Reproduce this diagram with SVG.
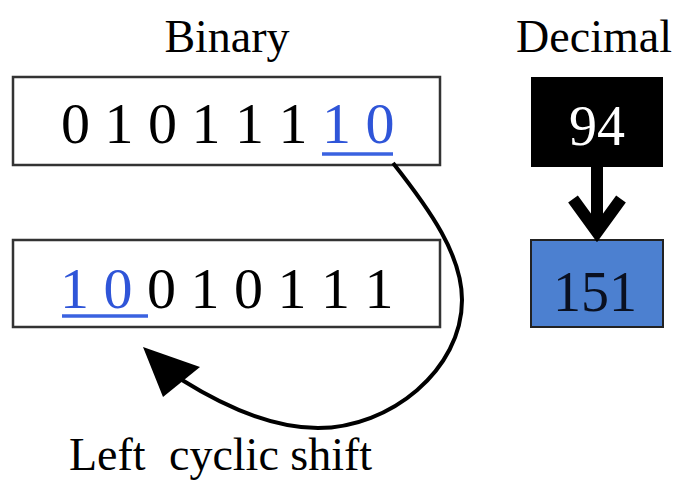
<svg xmlns="http://www.w3.org/2000/svg" width="677" height="482" viewBox="0 0 677 482">
  <style>
    .t { font-family: "Liberation Serif", "Times New Roman", serif; }
    .title { font-size: 46px; fill: #000; }
    .bits { font-size: 58px; fill: #000; }
    .hl { fill: #2f55d8; }
    .frame { fill: #fff; stroke: #333; stroke-width: 2.5; }
    .uline { stroke: #3a62e0; stroke-width: 3.5; }
    .num { font-size: 56px; text-anchor: middle; }
  </style>

  <rect width="677" height="482" fill="#fff"/>

  <!-- column headings -->
  <text class="t title" x="227" y="52" text-anchor="middle">Binary</text>
  <text class="t title" x="594" y="52" text-anchor="middle">Decimal</text>

  <!-- original bit string -->
  <g id="binary-original">
    <rect class="frame" x="13" y="77" width="427" height="88"/>
    <text class="t bits" y="143"><tspan x="61">0</tspan><tspan x="104.5">1</tspan><tspan x="148">0</tspan><tspan x="191.5">1</tspan><tspan x="235">1</tspan><tspan x="278.5">1</tspan><tspan class="hl" x="322">1</tspan><tspan class="hl" x="365.5">0</tspan></text>
    <line class="uline" x1="322" y1="154" x2="393" y2="154"/>
  </g>

  <!-- shifted bit string -->
  <g id="binary-shifted">
    <rect class="frame" x="13" y="240" width="427" height="87"/>
    <text class="t bits" y="308"><tspan class="hl" x="60">1</tspan><tspan class="hl" x="103.5">0</tspan><tspan x="147">0</tspan><tspan x="190.5">1</tspan><tspan x="234">0</tspan><tspan x="277.5">1</tspan><tspan x="321">1</tspan><tspan x="364.5">1</tspan></text>
    <line class="uline" x1="62" y1="316" x2="148" y2="316"/>
  </g>

  <!-- decimal values -->
  <g id="decimal-94">
    <rect x="531" y="77" width="132" height="90" fill="#000"/>
    <text class="t num" x="597" y="145" fill="#fff">94</text>
  </g>
  <g id="decimal-151">
    <rect x="531" y="240" width="132" height="87" fill="#4c80d0" stroke="#222" stroke-width="2"/>
    <text class="t num" x="595" y="311" fill="#0a1020" font-size="58">151</text>
  </g>

  <!-- connectors -->
  <g id="connectors" fill="none" stroke="#000">
    <line x1="597" y1="167" x2="597" y2="228" stroke-width="12"/>
    <path d="M573,199 L597,232 L621,199" stroke-width="12" stroke-linejoin="miter"/>
    <path d="M393,163 C430,210 462,255 462,300 C462,370 390,428 318,428 C270,428 222,405 182,380" stroke-width="4"/>
    <path d="M143,347 L200,367 L163,397 Z" fill="#000" stroke="none"/>
  </g>

  <text class="t title" y="470" font-size="48"><tspan x="69">Left</tspan><tspan x="169">cyclic shift</tspan></text>
</svg>
